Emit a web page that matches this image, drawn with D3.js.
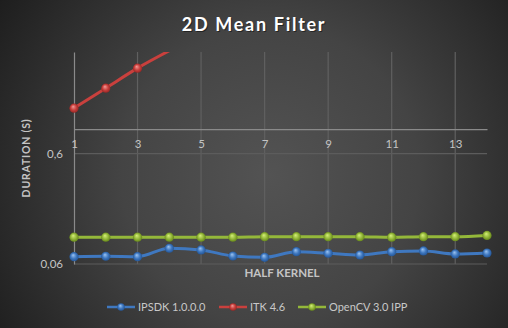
<!DOCTYPE html>
<html>
<head>
<meta charset="utf-8">
<script src="https://cdn.jsdelivr.net/npm/d3@7"></script>
<style>
html,body{margin:0;padding:0;background:#2a2a2a;}
svg{display:block;}
text{font-family:Lato,"Open Sans",sans-serif;}
</style>
</head>
<body>
<svg id="chart" width="508" height="328"></svg>
<script>
const title = "2D Mean Filter";
const xTitle = "HALF KERNEL";
const yTitle = "DURATION (S)";
const categories = [1,2,3,4,5,6,7,8,9,10,11,12,13,14];
const seriesNames = ["IPSDK 1.0.0.0", "ITK 4.6", "OpenCV 3.0 IPP"];
const ipsdk = [0.0699,0.0705,0.0699,0.0833,0.0805,0.0709,0.0690,0.0776,0.0751,0.0724,0.0776,0.0788,0.0740,0.0755];
const itk = [1.55,2.35,3.57,5.13];
const opencv = [0.105,0.105,0.105,0.105,0.105,0.105,0.106,0.106,0.106,0.106,0.105,0.106,0.106,0.109];
const xTicks = [1,3,5,7,9,11,13];
const yTicks = [0.06,0.6];
const yTickLabels = ["0,06","0,6"];
const colors = ["#3f78c0","#c9403d","#94b83a"];
const light = ["#9cc4f2","#f49a98","#d6f07a"];
const dark = ["#1f4f8e","#8c2220","#5e7d15"];

const svg = d3.select("#chart");
const W = 508, H = 328;
const defs = svg.append("defs");

const bg = defs.append("radialGradient").attr("id","bg")
  .attr("gradientUnits","userSpaceOnUse")
  .attr("cx",270).attr("cy",175).attr("r",330);
bg.append("stop").attr("offset","0%").attr("stop-color","#535353");
bg.append("stop").attr("offset","45%").attr("stop-color","#444444");
bg.append("stop").attr("offset","100%").attr("stop-color","#1c1c1c");
svg.append("rect").attr("width",W).attr("height",H).attr("fill","url(#bg)");

colors.forEach((c,i)=>{
  const g = defs.append("radialGradient").attr("id","m"+i)
    .attr("cx","50%").attr("cy","50%").attr("r","55%").attr("fx","40%").attr("fy","32%");
  g.append("stop").attr("offset","0%").attr("stop-color",light[i]);
  g.append("stop").attr("offset","55%").attr("stop-color",c);
  g.append("stop").attr("offset","100%").attr("stop-color",dark[i]);
});

const x = d3.scaleLinear().domain([1,14]).range([74,487]);
const y = d3.scaleLog().domain([0.06,5]).range([264,52]);

// gridlines
const grid = svg.append("g");
grid.selectAll("line.v").data(xTicks.slice(1)).join("line")
  .attr("x1",d=>x(d)).attr("x2",d=>x(d))
  .attr("y1",y.range()[1]).attr("y2",y.range()[0])
  .attr("stroke","#606060").attr("stroke-width",1.2);
grid.selectAll("line.h").data(yTicks).join("line")
  .attr("x1",x.range()[0]).attr("x2",x.range()[1])
  .attr("y1",d=>y(d)).attr("y2",d=>y(d))
  .attr("stroke","#5c5c5c").attr("stroke-width",1.2);

// y axis
const yAxis = d3.axisLeft(y).tickValues(yTicks)
  .tickFormat((d,i)=>yTickLabels[i]).tickSize(0).tickPadding(11);
const yg = svg.append("g").attr("transform",`translate(${x.range()[0]},0)`).call(yAxis);
yg.select(".domain").attr("stroke","#8a8a8a").attr("stroke-width",1.2);
yg.selectAll("text").attr("fill","#c4c4c4").attr("font-size",11.5);

// x axis crossing at 1
const xAxis = d3.axisBottom(x).tickValues(xTicks).tickSize(0).tickPadding(11);
const xg = svg.append("g").attr("transform",`translate(0,${y(1)})`).call(xAxis);
xg.select(".domain").attr("stroke","#8a8a8a").attr("stroke-width",1.2);
xg.selectAll("text").attr("fill","#c4c4c4").attr("font-size",11.5);

// series
const line = d3.line().x((d,i)=>x(categories[i])).y(d=>y(d)).curve(d3.curveMonotoneX);
const allSeries = [ipsdk, itk, opencv];
defs.append("clipPath").attr("id","clip2").append("rect")
  .attr("x",0).attr("y",y.range()[1]).attr("width",W).attr("height",H);
allSeries.forEach((s,i)=>{
  svg.append("path").datum(s).attr("d",line)
    .attr("clip-path","url(#clip2)")
    .attr("fill","none").attr("stroke",colors[i]).attr("stroke-width",3)
    .attr("stroke-linejoin","round");
});
allSeries.forEach((s,i)=>{
  const pts = s.map((v,j)=>({v,c:categories[j]})).filter(d=>d.v<=y.domain()[1]);
  svg.append("g").selectAll("circle").data(pts).join("circle")
    .attr("cx",d=>x(d.c)).attr("cy",d=>y(d.v)).attr("r",4.6)
    .attr("fill",`url(#m${i})`);
});

// title
svg.append("text").attr("x",254).attr("y",31).attr("text-anchor","middle")
  .attr("font-size",18).attr("font-weight","bold").attr("fill","#000").attr("opacity",0.45)
  .attr("letter-spacing",1.7).attr("dx",1).attr("dy",1).text(title);
svg.append("text").attr("x",254).attr("y",31).attr("text-anchor","middle")
  .attr("font-size",18).attr("font-weight","bold").attr("fill","#ffffff")
  .attr("letter-spacing",1.7).text(title);

// axis titles
svg.append("text").attr("x",282).attr("y",277).attr("text-anchor","middle")
  .attr("font-size",11.5).attr("font-weight","bold").attr("fill","#c4c4c4").text(xTitle);
svg.append("text").attr("transform","translate(30,158) rotate(-90)").attr("text-anchor","middle")
  .attr("font-size",10.5).attr("font-weight","bold").attr("fill","#c4c4c4")
  .attr("letter-spacing",0.8).text(yTitle);

// legend
const legendX = [107, 219, 298];
const lg = svg.append("g");
seriesNames.forEach((n,i)=>{
  const g = lg.append("g").attr("transform",`translate(${legendX[i]},307)`);
  g.append("line").attr("x1",0).attr("x2",28).attr("y1",0).attr("y2",0)
    .attr("stroke",colors[i]).attr("stroke-width",2.5);
  g.append("circle").attr("cx",14).attr("cy",0).attr("r",3.8).attr("fill",`url(#m${i})`);
  g.append("text").attr("x",31).attr("y",4).attr("font-size",11).attr("fill","#c8c8c8").text(n);
});
</script>
</body>
</html>
